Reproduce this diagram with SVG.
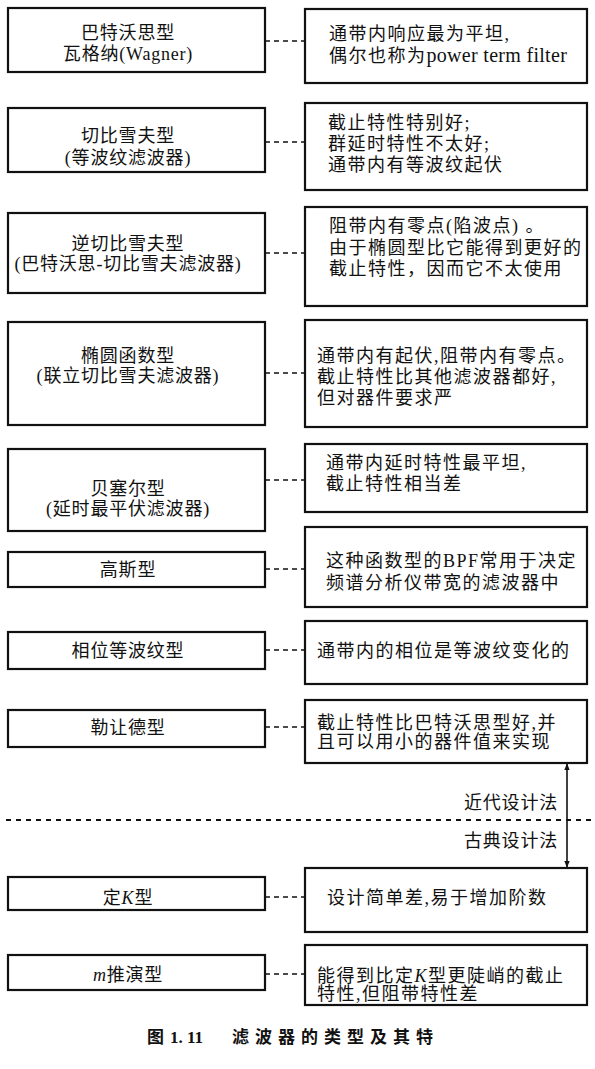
<svg xmlns="http://www.w3.org/2000/svg" width="595" height="1069" viewBox="0 0 595 1069">
<defs>
<style>
.box{fill:#fff;stroke:#111;stroke-width:2.2}
.t{font-family:"Liberation Serif","Noto Sans CJK SC",serif;font-size:18px;fill:#111;letter-spacing:0.8px}
.r{letter-spacing:1.5px}
.c{text-anchor:middle}
.conn{stroke:#111;stroke-width:1.6;stroke-dasharray:5 4;fill:none}
.div{stroke:#111;stroke-width:1.8;stroke-dasharray:5 5;fill:none}
.arr{stroke:#111;stroke-width:1.6;fill:none}
.cap{font-family:"Liberation Serif","Noto Sans CJK SC",serif;font-size:17px;fill:#111;font-weight:bold}
</style>
<marker id="ah" viewBox="0 0 10 10" refX="9" refY="5" markerWidth="7" markerHeight="7" markerUnits="userSpaceOnUse" orient="auto-start-reverse">
<path d="M0,1 L10,5 L0,9 z" fill="#111"/>
</marker>
</defs>
<rect width="595" height="1069" fill="#fff"/>

<g id="connectors">
<line class="conn" x1="265" y1="41" x2="305" y2="41"/>
<line class="conn" x1="265" y1="142" x2="305" y2="142"/>
<line class="conn" x1="265" y1="253" x2="305" y2="253"/>
<line class="conn" x1="265" y1="373" x2="305" y2="373"/>
<line class="conn" x1="265" y1="480" x2="305" y2="480"/>
<line class="conn" x1="265" y1="569" x2="305" y2="569"/>
<line class="conn" x1="265" y1="650" x2="305" y2="650"/>
<line class="conn" x1="265" y1="727" x2="305" y2="727"/>
<line class="conn" x1="265" y1="897" x2="305" y2="897"/>
<line class="conn" x1="265" y1="974" x2="305" y2="974"/>
<line class="arr" x1="567" y1="764" x2="567" y2="867" marker-start="url(#ah)" marker-end="url(#ah)"/>
</g>

<g id="divider">
<line class="div" x1="6" y1="820" x2="592" y2="820"/>
<text class="t" x="558" y="809" text-anchor="end">近代设计法</text>
<text class="t" x="558" y="847" text-anchor="end">古典设计法</text>
</g>

<g id="butterworth">
<rect class="box" x="8" y="8" width="257" height="64"/>
<text class="t c" x="128" y="39">巴特沃思型</text>
<text class="t c" x="128" y="60">瓦格纳(Wagner)</text>
</g>
<g id="butterworth-note">
<rect class="box" x="305" y="9" width="282" height="74"/>
<text class="t r" x="329" y="40">通带内响应最为平坦,</text>
<text class="t r" x="329" y="62">偶尔也称为<tspan font-size="20" letter-spacing="0.3">power term filter</tspan></text>
</g>

<g id="chebyshev">
<rect class="box" x="8" y="108" width="257" height="64"/>
<text class="t c" x="128" y="142">切比雪夫型</text>
<text class="t c" x="128" y="164">(等波纹滤波器)</text>
</g>
<g id="chebyshev-note">
<rect class="box" x="305" y="103" width="282" height="87"/>
<text class="t r" x="328" y="129">截止特性特别好;</text>
<text class="t r" x="328" y="150">群延时特性不太好;</text>
<text class="t r" x="328" y="171">通带内有等波纹起伏</text>
</g>

<g id="inverse-chebyshev">
<rect class="box" x="8" y="213" width="257" height="80"/>
<text class="t c" x="128" y="250">逆切比雪夫型</text>
<text class="t c" x="128" y="270">(巴特沃思-切比雪夫滤波器)</text>
</g>
<g id="inverse-chebyshev-note">
<rect class="box" x="305" y="207" width="282" height="99"/>
<text class="t r" x="329" y="232">阻带内有零点(陷波点) 。</text>
<text class="t r" x="329" y="254">由于椭圆型比它能得到更好的</text>
<text class="t r" x="329" y="275">截止特性，因而它不太使用</text>
</g>

<g id="elliptic">
<rect class="box" x="8" y="322" width="257" height="103"/>
<text class="t c" x="128" y="362">椭圆函数型</text>
<text class="t c" x="128" y="382">(联立切比雪夫滤波器)</text>
</g>
<g id="elliptic-note">
<rect class="box" x="305" y="320" width="282" height="107"/>
<text class="t r" x="317" y="362">通带内有起伏,阻带内有零点。</text>
<text class="t r" x="317" y="383">截止特性比其他滤波器都好,</text>
<text class="t r" x="317" y="404">但对器件要求严</text>
</g>

<g id="bessel">
<rect class="box" x="8" y="449" width="257" height="82"/>
<text class="t c" x="128" y="495">贝塞尔型</text>
<text class="t c" x="128" y="515">(延时最平伏滤波器)</text>
</g>
<g id="bessel-note">
<rect class="box" x="305" y="444" width="282" height="68"/>
<text class="t r" x="326" y="469">通带内延时特性最平坦,</text>
<text class="t r" x="326" y="490">截止特性相当差</text>
</g>

<g id="gaussian">
<rect class="box" x="8" y="552" width="257" height="35"/>
<text class="t c" x="128" y="576">高斯型</text>
</g>
<g id="gaussian-note">
<rect class="box" x="305" y="527" width="282" height="80"/>
<text class="t r" x="326" y="567">这种函数型的BPF常用于决定</text>
<text class="t r" x="326" y="589">频谱分析仪带宽的滤波器中</text>
</g>

<g id="equiripple-phase">
<rect class="box" x="8" y="632" width="257" height="37"/>
<text class="t c" x="128" y="657">相位等波纹型</text>
</g>
<g id="equiripple-phase-note">
<rect class="box" x="305" y="621" width="282" height="63"/>
<text class="t r" x="317" y="657">通带内的相位是等波纹变化的</text>
</g>

<g id="legendre">
<rect class="box" x="8" y="710" width="257" height="37"/>
<text class="t c" x="128" y="734">勒让德型</text>
</g>
<g id="legendre-note">
<rect class="box" x="305" y="700" width="282" height="63"/>
<text class="t r" x="317" y="729">截止特性比巴特沃思型好,并</text>
<text class="t r" x="317" y="748">且可以用小的器件值来实现</text>
</g>

<g id="constant-k">
<rect class="box" x="8" y="877" width="257" height="33"/>
<text class="t c" x="128" y="904">定<tspan font-style="italic">K</tspan>型</text>
</g>
<g id="constant-k-note">
<rect class="box" x="305" y="868" width="282" height="64"/>
<text class="t r" x="327" y="904">设计简单差,易于增加阶数</text>
</g>

<g id="m-derived">
<rect class="box" x="8" y="955" width="257" height="35"/>
<text class="t c" x="128" y="981"><tspan font-style="italic">m</tspan>推演型</text>
</g>
<g id="m-derived-note">
<rect class="box" x="305" y="945" width="282" height="60"/>
<text class="t r" x="317" y="982">能得到比定<tspan font-style="italic">K</tspan>型更陡峭的截止</text>
<text class="t r" x="317" y="1000">特性,但阻带特性差</text>
</g>

<g id="caption">
<text class="cap" x="147" y="1043">图<tspan x="170">1. 11</tspan><tspan x="232" letter-spacing="6">滤波器的类型及其特</tspan></text>
</g>
</svg>
